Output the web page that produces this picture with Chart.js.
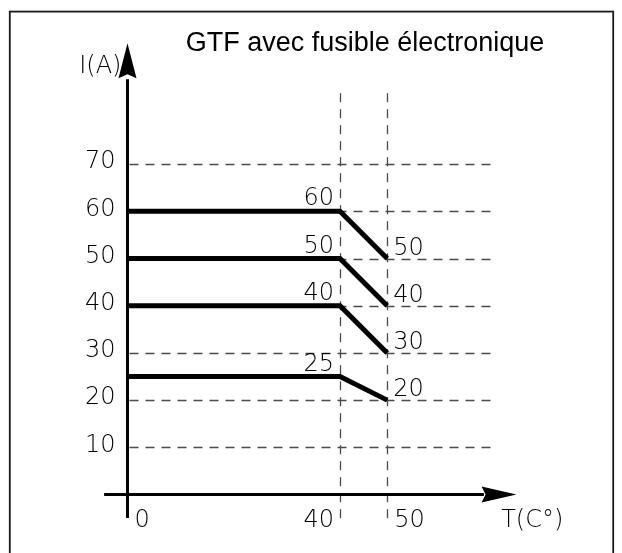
<!DOCTYPE html>
<html><head><meta charset="utf-8">
<script src="https://cdn.jsdelivr.net/npm/chart.js@4/dist/chart.umd.min.js"></script>
<style>html,body{margin:0;padding:0;background:#fff}#wrap{width:622px;height:553px;position:relative}</style>
</head><body><div id="wrap"><canvas id="c"></canvas></div>
<script>
// ---- data ----
const temperatures = [0, 40, 50];
const curve60 = [60, 60, 50];
const curve50 = [50, 50, 40];
const curve40 = [40, 40, 30];
const curve25 = [25, 25, 20];
const yTickValues = [10, 20, 30, 40, 50, 60, 70];
const xTickValues = [0, 40, 50];
const titleText = 'GTF avec fusible électronique';
const yAxisTitle = 'I(A)';
const xAxisTitle = 'T(C°)';

// ---- schematic scale: stretched segment up to the break temperature ----
class WarpScale extends Chart.LinearScale {
  warp(v) {
    const b = this.options.breakAt, k = this.options.stretch;
    return v <= b ? v * k : b * k + (v - b);
  }
  getPixelForValue(v) { return super.getPixelForValue(this.warp(v)); }
}
WarpScale.id = 'warp';
WarpScale.defaults = Object.assign({}, Chart.LinearScale.defaults);
Chart.register(WarpScale);

const THIN = '200 24px "DejaVu Sans"';
const GRID_X_END = 72.5;

const diagram = {
  id: 'diagram',
  beforeDatasetsDraw(chart) {
    const { ctx, scales: { x, y } } = chart;
    ctx.save();
    // frame
    ctx.strokeStyle = '#1a1a1a'; ctx.lineWidth = 1.8;
    ctx.strokeRect(9.8, 11.6, 603.4, 620);
    // dashed grid
    ctx.setLineDash([9, 7]); ctx.strokeStyle = '#4a4a4a'; ctx.lineWidth = 1.3;
    const x0 = x.getPixelForValue(0), y0 = y.getPixelForValue(0);
    const xg = x.getPixelForValue(GRID_X_END);
    yTickValues.forEach(v => {
      const py = Math.round(y.getPixelForValue(v)) + 0.5;
      ctx.beginPath(); ctx.moveTo(x0 + 2, py); ctx.lineTo(xg, py); ctx.stroke();
    });
    xTickValues.slice(1).forEach(v => {
      const px = Math.round(x.getPixelForValue(v)) + 0.5;
      ctx.beginPath(); ctx.moveTo(px, y.getPixelForValue(85)); ctx.lineTo(px, y.getPixelForValue(-5.6)); ctx.stroke();
    });
    ctx.setLineDash([]);
    // axes
    ctx.strokeStyle = '#000'; ctx.fillStyle = '#000'; ctx.lineWidth = 3;
    ctx.beginPath(); ctx.moveTo(x0, y.getPixelForValue(-5)); ctx.lineTo(x0, y.getPixelForValue(88)); ctx.stroke();
    ctx.beginPath(); ctx.moveTo(x.getPixelForValue(-4.4), y0); ctx.lineTo(x.getPixelForValue(70.5), y0); ctx.stroke();
    // y arrow
    const yt = y.getPixelForValue(95.6), yb = y.getPixelForValue(88.2);
    ctx.beginPath(); ctx.moveTo(x0, yt); ctx.lineTo(x0 + 9, yb); ctx.lineTo(x0, yb - 4); ctx.lineTo(x0 - 9, yb); ctx.closePath(); ctx.fill();
    // x arrow
    const xt = x.getPixelForValue(77.4), xb = x.getPixelForValue(70.0);
    ctx.beginPath(); ctx.moveTo(xt, y0); ctx.lineTo(xb, y0 - 8); ctx.lineTo(xb + 4, y0); ctx.lineTo(xb, y0 + 8); ctx.closePath(); ctx.fill();

    // texts
    ctx.fillStyle = '#000';
    ctx.font = '27px "Liberation Sans", Arial, sans-serif';
    ctx.textAlign = 'center'; ctx.textBaseline = 'alphabetic';
    ctx.fillText(titleText, 365, 51);

    ctx.font = THIN;
    ctx.fillStyle = '#000';
    ctx.textAlign = 'right'; ctx.textBaseline = 'middle';
    yTickValues.forEach(v => ctx.fillText(String(v), x0 - 12, y.getPixelForValue(v) - 2));
    ctx.textBaseline = 'alphabetic';
    xTickValues.forEach((v, i) => {
      const px = x.getPixelForValue(v);
      if (i === 1) { ctx.textAlign = 'right'; ctx.fillText(String(v), px - 6, 527); }
      else { ctx.textAlign = 'left'; ctx.fillText(String(v), px + 7, 527); }
    });
    ctx.textAlign = 'right'; ctx.fillText(yAxisTitle, x0 - 6, 73);
    ctx.textAlign = 'left'; ctx.fillText(xAxisTitle, x.getPixelForValue(xTickValues[2]) + 114, 527);

    // knee value labels
    [curve60, curve50, curve40, curve25].forEach(c => {
      ctx.textAlign = 'right';
      ctx.fillText(String(c[1]), x.getPixelForValue(temperatures[1]) - 6, y.getPixelForValue(c[1]) - 6);
      ctx.textAlign = 'left';
      ctx.fillText(String(c[2]), x.getPixelForValue(temperatures[2]) + 6, y.getPixelForValue(c[2]) - 4);
    });
    ctx.restore();
  }
};

const mk = (vals) => ({
  data: temperatures.map((t, i) => ({ x: t, y: vals[i] })),
  borderColor: '#000', borderWidth: 5, pointRadius: 0, tension: 0,
  borderJoinStyle: 'miter', borderCapStyle: 'butt', fill: false
});

new Chart(document.getElementById('c'), {
  type: 'line',
  data: { datasets: [mk(curve60), mk(curve50), mk(curve40), mk(curve25)] },
  options: {
    responsive: true, maintainAspectRatio: false, animation: false,
    layout: { padding: 0 },
    plugins: { legend: { display: false }, tooltip: { enabled: false } },
    scales: {
      x: { type: 'warp', min: -27.01, max: 104.77, breakAt: 40, stretch: 1.1255, display: false, bounds: 'data' },
      y: { type: 'linear', min: -12.39, max: 104.77, display: false, bounds: 'data' }
    }
  },
  plugins: [diagram]
});
</script>
</body></html>
